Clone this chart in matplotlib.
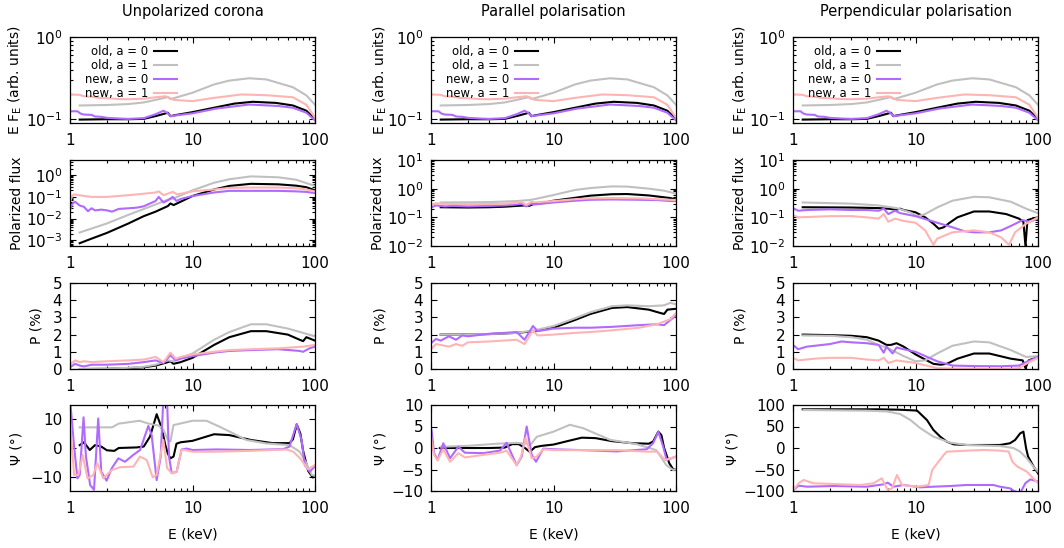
import matplotlib
matplotlib.use("Agg")
import matplotlib.pyplot as plt
from matplotlib.ticker import LogLocator, FixedLocator, FixedFormatter, NullFormatter, MultipleLocator

plt.rcParams['font.family'] = ['DejaVu Sans']

# ---------------- data ----------------
col_titles = ["Unpolarized corona", "Parallel polarisation", "Perpendicular polarisation"]
series_labels = ["old, a = 0", "old, a = 1", "new, a = 0", "new, a = 1"]
series_colors = ["#000000", "#c0c0c0", "#b06aff", "#ffb4b4"]
row_labels = ["E F$_\\mathrm{E}$ (arb. units)", "Polarized flux", "P (%)", "\u03a8 (\u00b0)"]
x_ticks = [1, 10, 100]
x_ticklabels = ["1", "10", "100"]

# Row 1: total flux (same in all columns)
flux_E_old0 = [1.2, 2, 3, 4, 5.1, 6.3, 6.6, 7.2, 10, 15.7, 22, 31, 48, 66, 85, 100]
flux_old0 = [0.099, 0.1, 0.1, 0.101, 0.11, 0.12, 0.109, 0.112, 0.122, 0.14, 0.155, 0.163, 0.158, 0.147, 0.127, 0.1]
flux_E_old1 = [1.2, 2, 3, 4, 5, 6.3, 6.6, 7.2, 10, 15, 20, 29, 40, 66, 85, 100]
flux_old1 = [0.147, 0.149, 0.153, 0.16, 0.172, 0.186, 0.176, 0.182, 0.21, 0.265, 0.295, 0.315, 0.305, 0.245, 0.195, 0.15]
flux_E_new0 = [1.0, 1.15, 1.22, 1.3, 1.5, 1.6, 1.8, 2.0, 2.5, 3.0, 4.0, 5.0, 5.8, 6.3, 6.6, 7.2, 10, 15.7, 29, 50, 66, 85, 100]
flux_new0 = [0.125, 0.125, 0.117, 0.114, 0.113, 0.108, 0.107, 0.104, 0.102, 0.101, 0.103, 0.115, 0.127, 0.118, 0.109, 0.111, 0.118, 0.135, 0.151, 0.145, 0.138, 0.12, 0.097]
flux_E_new1 = [1.0, 1.2, 1.3, 1.5, 1.7, 2, 2.5, 3, 4, 5, 6.0, 6.3, 7, 10, 15, 25, 40, 66, 85, 100]
flux_new1 = [0.20, 0.198, 0.19, 0.188, 0.182, 0.18, 0.176, 0.175, 0.178, 0.185, 0.19, 0.186, 0.172, 0.166, 0.182, 0.2, 0.196, 0.185, 0.15, 0.104]

# Row 2: polarized flux
# unpolarized corona
pf_un_E_old0 = [1.2, 1.5, 2, 3, 4, 5, 6.3, 6.6, 7, 8, 10, 15, 20, 30, 50, 70, 85, 100]
pf_un_old0 = [7.4e-4, 1.2e-3, 2.2e-3, 6e-3, 0.013, 0.021, 0.038, 0.05, 0.042, 0.06, 0.11, 0.22, 0.32, 0.4, 0.38, 0.33, 0.28, 0.2]
pf_un_E_old1 = [1.2, 2, 3, 5, 6.3, 7, 10, 15, 20, 30, 50, 70, 100]
pf_un_old1 = [2.3e-3, 6e-3, 0.015, 0.045, 0.075, 0.085, 0.2, 0.45, 0.65, 0.88, 0.8, 0.62, 0.32]
pf_un_E_new0 = [1.0, 1.05, 1.1, 1.2, 1.3, 1.4, 1.5, 1.6, 1.8, 2, 2.2, 2.5, 3, 3.5, 4, 4.5, 5.0, 5.3, 5.8, 6.3, 6.9, 7.4, 8, 10, 15, 20, 30, 50, 70, 85, 100]
pf_un_new0 = [0.025, 0.05, 0.06, 0.04, 0.035, 0.022, 0.03, 0.024, 0.026, 0.024, 0.021, 0.028, 0.03, 0.032, 0.037, 0.05, 0.065, 0.1, 0.055, 0.07, 0.1, 0.065, 0.08, 0.11, 0.16, 0.19, 0.19, 0.19, 0.18, 0.17, 0.15]
pf_un_E_new1 = [1.0, 1.05, 1.1, 1.3, 1.5, 2, 3, 4, 5, 5.3, 5.8, 6.9, 7.5, 10, 15, 20, 30, 50, 70, 85, 100]
pf_un_new1 = [0.06, 0.12, 0.13, 0.11, 0.1, 0.1, 0.12, 0.14, 0.16, 0.18, 0.12, 0.17, 0.13, 0.18, 0.22, 0.26, 0.27, 0.27, 0.25, 0.22, 0.18]
# parallel
pf_pa_E_old0 = [1.2, 2, 3, 4, 5, 5.8, 6.3, 7, 8, 10, 15, 20, 30, 40, 60, 80, 90, 100]
pf_pa_old0 = [0.225, 0.22, 0.225, 0.235, 0.25, 0.26, 0.25, 0.3, 0.31, 0.38, 0.48, 0.57, 0.64, 0.65, 0.58, 0.5, 0.47, 0.42]
pf_pa_E_old1 = [1.2, 3, 5, 6.3, 7, 10, 15, 20, 30, 40, 60, 80, 100]
pf_pa_old1 = [0.33, 0.34, 0.37, 0.4, 0.43, 0.6, 0.9, 1.05, 1.2, 1.18, 1.0, 0.85, 0.67]
pf_pa_E_new0 = [1.0, 1.1, 1.3, 1.5, 2, 3, 4, 5, 5.5, 6, 6.6, 7, 10, 15, 20, 30, 50, 70, 90, 100]
pf_pa_new0 = [0.22, 0.26, 0.24, 0.25, 0.24, 0.25, 0.26, 0.28, 0.3, 0.24, 0.3, 0.28, 0.33, 0.38, 0.41, 0.42, 0.41, 0.4, 0.37, 0.37]
pf_pa_E_new1 = [1.0, 1.1, 1.3, 2, 3, 4, 5, 5.5, 6, 6.6, 7, 10, 15, 20, 30, 50, 70, 100]
pf_pa_new1 = [0.27, 0.31, 0.29, 0.29, 0.29, 0.3, 0.32, 0.34, 0.27, 0.35, 0.33, 0.37, 0.43, 0.46, 0.47, 0.46, 0.43, 0.4]
# perpendicular
pf_pe_E_old0 = [1.2, 3, 5, 6, 7, 7.5, 8, 10, 12, 14, 15.5, 17, 19, 22, 30, 40, 55, 70, 76, 79, 82, 90, 100]
pf_pe_old0 = [0.225, 0.22, 0.21, 0.2, 0.185, 0.2, 0.18, 0.15, 0.1, 0.06, 0.04, 0.045, 0.065, 0.1, 0.16, 0.16, 0.13, 0.09, 0.07, 0.01, 0.08, 0.09, 0.1]
pf_pe_E_old1 = [1.2, 3, 5, 7, 9, 10.5, 12, 15, 20, 30, 40, 60, 80, 100]
pf_pe_old1 = [0.33, 0.3, 0.26, 0.21, 0.15, 0.11, 0.13, 0.22, 0.38, 0.52, 0.5, 0.35, 0.2, 0.14]
pf_pe_E_new0 = [1.0, 1.1, 1.3, 2, 3, 4, 5, 5.5, 6, 6.8, 7.5, 10, 15, 20, 25, 30, 40, 50, 60, 75, 85, 100]
pf_pe_new0 = [0.21, 0.17, 0.18, 0.19, 0.18, 0.18, 0.17, 0.2, 0.13, 0.17, 0.14, 0.11, 0.065, 0.045, 0.033, 0.03, 0.03, 0.035, 0.05, 0.08, 0.07, 0.09]
pf_pe_E_new1 = [1.0, 1.1, 2, 3, 4, 5, 5.5, 6, 6.8, 8, 10, 12, 14, 15, 20, 30, 40, 50, 58, 65, 80, 100]
pf_pe_new1 = [0.12, 0.1, 0.11, 0.11, 0.1, 0.09, 0.13, 0.07, 0.09, 0.075, 0.065, 0.035, 0.011, 0.018, 0.03, 0.035, 0.03, 0.02, 0.011, 0.03, 0.06, 0.1]

# Row 3: polarization degree P (%)
p_un_E_old0 = [1.2, 2, 3, 4, 5, 6.3, 6.6, 7, 8, 10, 15, 20, 30, 40, 60, 75, 80, 85, 100]
p_un_old0 = [0.0, 0.01, 0.05, 0.1, 0.2, 0.4, 0.45, 0.3, 0.4, 0.65, 1.4, 1.85, 2.2, 2.2, 2.0, 1.7, 1.62, 1.85, 1.65]
p_un_E_old1 = [1.2, 2, 3, 4, 5, 6.3, 7, 8, 10, 15, 20, 30, 40, 60, 80, 100]
p_un_old1 = [0.0, 0.02, 0.07, 0.13, 0.25, 0.5, 0.45, 0.65, 0.9, 1.7, 2.15, 2.6, 2.6, 2.35, 2.1, 1.9]
p_un_E_new0 = [1.0, 1.1, 1.2, 1.3, 1.5, 2, 3, 4, 5, 5.8, 6.6, 7.3, 8, 10, 15, 20, 30, 50, 75, 80, 90, 100]
p_un_new0 = [0.1, 0.3, 0.2, 0.15, 0.25, 0.25, 0.3, 0.4, 0.5, 0.35, 0.8, 0.5, 0.6, 0.75, 0.95, 1.05, 1.1, 1.15, 1.05, 1.0, 1.2, 1.3]
p_un_E_new1 = [1.0, 1.1, 1.2, 1.3, 1.5, 2, 3, 4, 5, 5.8, 6.6, 7.3, 8, 10, 15, 20, 30, 50, 80, 100]
p_un_new1 = [0.25, 0.5, 0.4, 0.45, 0.4, 0.45, 0.5, 0.55, 0.7, 0.4, 0.95, 0.6, 0.7, 0.85, 1.0, 1.1, 1.15, 1.2, 1.3, 1.4]
p_pa_E_old0 = [1.2, 3, 5, 7, 10, 15, 20, 30, 40, 60, 75, 80, 85, 100]
p_pa_old0 = [2.0, 2.03, 2.1, 2.2, 2.4, 2.85, 3.2, 3.55, 3.6, 3.45, 3.25, 3.2, 3.45, 3.5]
p_pa_E_old1 = [1.2, 3, 5, 7, 10, 15, 20, 30, 40, 60, 80, 90, 100]
p_pa_old1 = [2.0, 2.03, 2.1, 2.25, 2.5, 2.95, 3.3, 3.65, 3.7, 3.65, 3.7, 3.85, 3.75]
p_pa_E_new0 = [1.0, 1.1, 1.2, 1.4, 1.6, 1.8, 2, 3, 4, 5, 5.8, 6.8, 7.4, 10, 15, 20, 30, 50, 70, 80, 90, 100]
p_pa_new0 = [1.5, 1.75, 1.65, 1.9, 1.7, 1.95, 1.9, 2.05, 2.1, 2.15, 1.7, 2.5, 2.2, 2.35, 2.4, 2.4, 2.45, 2.55, 2.6, 2.55, 2.85, 3.1]
p_pa_E_new1 = [1.0, 1.1, 1.2, 1.4, 1.6, 1.8, 2, 3, 5, 5.8, 6.8, 7.4, 10, 15, 20, 30, 50, 70, 90, 100]
p_pa_new1 = [1.15, 1.45, 1.4, 1.3, 1.45, 1.35, 1.55, 1.6, 1.7, 1.45, 2.25, 1.95, 2.0, 2.1, 2.15, 2.25, 2.4, 2.6, 2.9, 3.25]
p_pe_E_old0 = [1.2, 2, 3, 4, 5, 5.8, 6.3, 7, 8, 10, 12, 14, 16, 18, 22, 30, 40, 60, 75, 79, 84, 100]
p_pe_old0 = [2.0, 1.97, 1.93, 1.85, 1.65, 1.4, 1.4, 1.5, 1.3, 0.85, 0.55, 0.3, 0.25, 0.3, 0.6, 0.9, 0.9, 0.6, 0.5, 0.05, 0.5, 0.7]
p_pe_E_old1 = [1.2, 2, 3, 4, 5, 6, 8, 10, 12, 15, 20, 30, 40, 60, 80, 100]
p_pe_old1 = [1.95, 1.93, 1.85, 1.7, 1.4, 1.2, 0.75, 0.45, 0.5, 0.9, 1.35, 1.6, 1.55, 1.1, 0.7, 0.75]
p_pe_E_new0 = [1.0, 1.1, 1.3, 2, 2.5, 3, 4, 5, 5.5, 5.8, 6.5, 7, 8, 10, 15, 20, 30, 50, 70, 80, 100]
p_pe_new0 = [1.4, 1.15, 1.3, 1.45, 1.6, 1.55, 1.5, 1.4, 0.95, 1.3, 0.9, 1.25, 1.15, 1.0, 0.45, 0.2, 0.17, 0.16, 0.2, 0.4, 0.7]
p_pe_E_new1 = [1.0, 1.1, 1.5, 2, 3, 4, 5, 5.5, 6, 7, 10, 15, 20, 40, 60, 70, 80, 100]
p_pe_new1 = [0.65, 0.5, 0.6, 0.65, 0.65, 0.55, 0.5, 0.65, 0.35, 0.5, 0.35, 0.05, 0.03, 0.02, 0.02, 0.06, 0.3, 0.65]

# Row 4: polarization angle Psi (deg)
psi_un_E_old0 = [1.2, 1.3, 1.45, 1.6, 1.8, 2, 2.3, 2.5, 3.5, 4.0, 4.5, 5.1, 5.6, 6.0, 6.3, 6.6, 7.0, 7.4, 8, 10, 15, 20, 30, 45, 62, 66, 71, 76, 80, 88, 96, 100]
psi_un_old0 = [1.0, 2.0, -0.7, 1.0, 0.5, -0.8, -1.0, 0.0, 0.2, 0.5, 4.0, 11.8, 7.0, 1.0, -2.0, -3.6, -3.0, 1.5, 2.0, 2.5, 4.8, 4.5, 2.8, 1.7, 1.7, 3.0, 8.2, 5.0, -1.0, -8.0, -10.3, -9.8]
psi_un_E_old1 = [1.2, 2.2, 2.5, 3.7, 4.3, 5.3, 5.8, 6.3, 6.6, 7.0, 10, 13, 16.7, 21.5, 27.5, 40, 62, 75, 85, 94, 100]
psi_un_old1 = [7.2, 7.2, 8.5, 9.5, 8.6, 7.8, 6.3, 2.8, 2.3, 8.0, 9.5, 9.5, 7.4, 5.1, 2.8, 1.6, 1.0, -1.3, -5.3, -9.4, -9.7]
psi_un_E_new0 = [1.0, 1.01, 1.08, 1.15, 1.2, 1.29, 1.35, 1.46, 1.57, 1.7, 1.8, 1.99, 2.19, 2.48, 2.81, 3.29, 3.73, 4.36, 4.64, 5.1, 5.5, 5.85, 6.16, 6.43, 6.76, 7.42, 8.15, 8.95, 10, 15.7, 29.5, 55, 62, 70.8, 77.7, 82.6, 90.7, 100]
psi_un_new0 = [20, 15, 0.5, -10.6, -9.4, 10.7, -3.0, -12.9, -14.6, 10.3, -8.3, -11.4, -7.1, -3.6, -4.8, -2.4, -0.7, 7.7, 4.5, -11.2, -3.0, 22, 20, -3.0, -8.8, -8.3, -0.5, -0.2, -0.7, -0.5, -0.7, -0.4, 0.5, 8.4, 2.8, -6.0, -8.3, -6.3]
psi_un_E_new1 = [1.0, 1.01, 1.08, 1.17, 1.27, 1.39, 1.55, 1.67, 1.87, 2.19, 2.56, 3.29, 3.73, 4.23, 4.73, 5.1, 5.78, 6.2, 6.76, 7.42, 8.15, 10, 15.7, 29.5, 58.5, 66.5, 75.5, 88, 100]
psi_un_new1 = [10, 7.4, -9.4, -9.4, -2.4, -10.6, -9.4, -5.3, -10.6, -7.7, -6.7, -6.5, -3.0, -4.2, -10.2, -9.4, 2.8, -7.0, -8.8, -8.3, -0.5, -1.3, -1.3, -1.0, -0.5, -1.3, -3.6, -7.4, -5.9]
psi_pa_E_old0 = [1.18, 3, 4, 4.6, 5.2, 5.85, 6.4, 7.06, 8, 10, 13, 17, 22, 30, 45, 60, 65, 71.7, 76, 80, 88, 95, 100]
psi_pa_old0 = [0.0, 0.0, 0.1, 0.9, 0.9, 0.0, -0.9, 0.2, 0.5, 0.8, 1.6, 2.4, 2.3, 1.6, 1.1, 1.0, 1.5, 3.8, 3.0, 0.0, -3.5, -5.0, -5.0]
psi_pa_E_old1 = [1.2, 2, 3.5, 5, 6.0, 6.6, 7.3, 10, 13.6, 17.5, 29, 47.6, 69, 83.5, 94.6, 100]
psi_pa_old1 = [0.3, 0.5, 1.0, 1.2, 1.0, 1.0, 2.6, 3.8, 5.4, 4.6, 1.9, 0.9, -0.5, -4.0, -5.1, -5.0]
psi_pa_E_new0 = [1.0, 1.01, 1.06, 1.13, 1.26, 1.43, 1.67, 1.89, 2.67, 3.66, 4.14, 5.0, 5.5, 6.04, 6.64, 7.2, 8.25, 10, 17.5, 32.7, 57.6, 65, 71.7, 78.6, 83.9, 100]
psi_pa_new0 = [4.5, 4.2, -1.2, -2.8, 1.1, -2.4, 0.3, -1.1, -1.2, -0.6, 1.2, -4.0, -2.0, 5.0, -1.6, -3.2, -0.15, -0.3, -0.5, -0.8, -0.3, 1.1, 3.8, 0.3, -2.8, -2.0]
psi_pa_E_new1 = [1.0, 1.01, 1.06, 1.13, 1.26, 1.43, 1.67, 1.89, 2.67, 3.66, 4.14, 5.0, 5.43, 5.93, 6.64, 7.3, 8.25, 10, 17.5, 32.7, 57.6, 70, 81.8, 100]
psi_pa_new1 = [3.0, 1.9, -1.6, -2.9, -0.3, -3.2, -1.2, -2.2, -1.6, -1.1, -0.6, -4.0, -2.0, 2.4, -2.4, -2.0, -0.3, -0.5, -0.5, -0.5, -0.85, -0.85, -2.8, -2.0]
psi_pe_E_old0 = [1.2, 5, 7.5, 10.3, 12.4, 14, 15.9, 18, 20.5, 26.2, 49, 59, 65, 71.5, 76, 80, 83, 91.6, 100]
psi_pe_old0 = [90, 90, 89, 87, 65, 42, 26.5, 14.7, 8.5, 7, 7, 11, 18.6, 34, 38, -1, -20, -42, -59]
psi_pe_E_old1 = [1.22, 4.0, 5.85, 7.5, 9.1, 10.9, 14, 19.2, 26.2, 49, 63, 71.5, 81, 91.6, 100]
psi_pe_old1 = [88.4, 86.8, 85, 79, 65, 46.5, 26.4, 12.4, 7, 4.6, 0, -8.5, -24, -43, -55]
psi_pe_E_new0 = [1.01, 1.11, 1.3, 2.15, 4.0, 5.5, 5.93, 6.6, 8, 10.9, 14, 19.2, 26.2, 43, 49, 59, 63.8, 71.5, 78.8, 86.6, 100]
psi_pe_new0 = [-97.7, -87.6, -90, -88.4, -90, -84.5, -80.6, -90, -86, -91.5, -90, -88.4, -86, -86, -90, -93.8, -100, -105, -82, -73, -78]
psi_pe_E_new1 = [1.01, 1.11, 1.22, 1.47, 2.15, 3.55, 4.55, 5.3, 5.93, 6.43, 7.06, 7.75, 10.3, 12.8, 13.7, 17, 18, 26.2, 36, 49, 57.6, 61.8, 67.5, 81, 100]
psi_pe_new1 = [-97.7, -82, -74.4, -82, -83.7, -86, -82, -70.5, -97.7, -94, -62.8, -86, -90, -86, -51, -16, -8.5, -6.2, -4.6, -6.2, -8.5, -31.8, -43, -55, -82]

# --------------- layout ---------------
W, H = 1064, 548
fig = plt.figure(figsize=(W / 100, H / 100), dpi=100)

col_left = [70, 431, 793]
row_top = [37, 160, 283, 405]
ax_w, ax_h = 245, 86
# horizontal centre (pixels) of each y-axis label, per column / row
ylabel_center_px = [[17, 17, 37, 17], [382, 378, 380, 380], [742, 740, 740, 732]]

flux_sets = [(flux_E_old0, flux_old0), (flux_E_old1, flux_old1), (flux_E_new0, flux_new0), (flux_E_new1, flux_new1)]
pf_sets = [
    [(pf_un_E_old0, pf_un_old0), (pf_un_E_old1, pf_un_old1), (pf_un_E_new0, pf_un_new0), (pf_un_E_new1, pf_un_new1)],
    [(pf_pa_E_old0, pf_pa_old0), (pf_pa_E_old1, pf_pa_old1), (pf_pa_E_new0, pf_pa_new0), (pf_pa_E_new1, pf_pa_new1)],
    [(pf_pe_E_old0, pf_pe_old0), (pf_pe_E_old1, pf_pe_old1), (pf_pe_E_new0, pf_pe_new0), (pf_pe_E_new1, pf_pe_new1)],
]
p_sets = [
    [(p_un_E_old0, p_un_old0), (p_un_E_old1, p_un_old1), (p_un_E_new0, p_un_new0), (p_un_E_new1, p_un_new1)],
    [(p_pa_E_old0, p_pa_old0), (p_pa_E_old1, p_pa_old1), (p_pa_E_new0, p_pa_new0), (p_pa_E_new1, p_pa_new1)],
    [(p_pe_E_old0, p_pe_old0), (p_pe_E_old1, p_pe_old1), (p_pe_E_new0, p_pe_new0), (p_pe_E_new1, p_pe_new1)],
]
psi_sets = [
    [(psi_un_E_old0, psi_un_old0), (psi_un_E_old1, psi_un_old1), (psi_un_E_new0, psi_un_new0), (psi_un_E_new1, psi_un_new1)],
    [(psi_pa_E_old0, psi_pa_old0), (psi_pa_E_old1, psi_pa_old1), (psi_pa_E_new0, psi_pa_new0), (psi_pa_E_new1, psi_pa_new1)],
    [(psi_pe_E_old0, psi_pe_old0), (psi_pe_E_old1, psi_pe_old1), (psi_pe_E_new0, psi_pe_new0), (psi_pe_E_new1, psi_pe_new1)],
]

pf_ylims = [(5.5e-4, 5), (1e-2, 10), (1e-2, 10)]
psi_ylims = [(-15, 15), (-10, 10), (-100, 100)]
psi_steps = [10, 5, 50]

FS = 11
LFS = 10


def make_ax(c, r):
    l = col_left[c] / W
    b = 1 - (row_top[r] + ax_h) / H
    ax = fig.add_axes([l, b, ax_w / W, ax_h / H])
    ax.set_xscale('log')
    ax.set_xlim(1, 100)
    ax.xaxis.set_major_locator(FixedLocator(x_ticks))
    ax.xaxis.set_major_formatter(FixedFormatter(x_ticklabels))
    ax.xaxis.set_minor_locator(LogLocator(base=10, subs=range(2, 10)))
    ax.xaxis.set_minor_formatter(NullFormatter())
    ax.tick_params(which='both', direction='in', top=True, right=True, labelsize=FS, width=0.8)
    ax.tick_params(which='major', length=4.5)
    ax.tick_params(axis='y', which='major', pad=5.5)
    ax.tick_params(axis='x', which='major', pad=7.5)
    ax.tick_params(which='minor', length=2.2)
    for s in ax.spines.values():
        s.set_linewidth(0.9)
    return ax


def set_ylabel(ax, c, r):
    ax.set_ylabel(row_labels[r], fontsize=LFS)
    right_px = ylabel_center_px[c][r] + 7
    ax.yaxis.set_label_coords((right_px - col_left[c]) / ax_w, 0.5)


for c in range(3):
    # row 1
    ax = make_ax(c, 0)
    for (e, v), col, lab in zip(flux_sets, series_colors, series_labels):
        ax.plot(e, v, color=col, lw=1.5, label=lab)
    ax.set_yscale('log')
    ax.set_ylim(0.09, 1.0)
    ax.yaxis.set_minor_formatter(NullFormatter())
    set_ylabel(ax, c, 0)
    ax.set_title(col_titles[c], fontsize=LFS + 0.5, pad=15)
    ax.legend(loc='upper left', bbox_to_anchor=(0.06, 0.91), frameon=False, markerfirst=False,
              fontsize=8.4, handlelength=2.0, handletextpad=0.5, labelspacing=0.1,
              borderpad=0, borderaxespad=0)

    # row 2
    ax = make_ax(c, 1)
    for (e, v), col in zip(pf_sets[c], series_colors):
        ax.plot(e, v, color=col, lw=1.5)
    ax.set_yscale('log')
    ax.set_ylim(*pf_ylims[c])
    ax.yaxis.set_major_locator(LogLocator(base=10, numticks=10))
    ax.yaxis.set_minor_locator(LogLocator(base=10, subs=range(2, 10), numticks=10))
    ax.yaxis.set_minor_formatter(NullFormatter())
    set_ylabel(ax, c, 1)

    # row 3
    ax = make_ax(c, 2)
    for (e, v), col in zip(p_sets[c], series_colors):
        ax.plot(e, v, color=col, lw=1.5)
    ax.set_ylim(0, 5)
    ax.yaxis.set_major_locator(MultipleLocator(1))
    set_ylabel(ax, c, 2)

    # row 4
    ax = make_ax(c, 3)
    for (e, v), col in zip(psi_sets[c], series_colors):
        ax.plot(e, v, color=col, lw=1.5)
    ax.set_ylim(*psi_ylims[c])
    ax.yaxis.set_major_locator(MultipleLocator(psi_steps[c]))
    set_ylabel(ax, c, 3)
    ax.set_xlabel("E (keV)", fontsize=LFS, labelpad=8)

fig.savefig("out.png", dpi=100)
